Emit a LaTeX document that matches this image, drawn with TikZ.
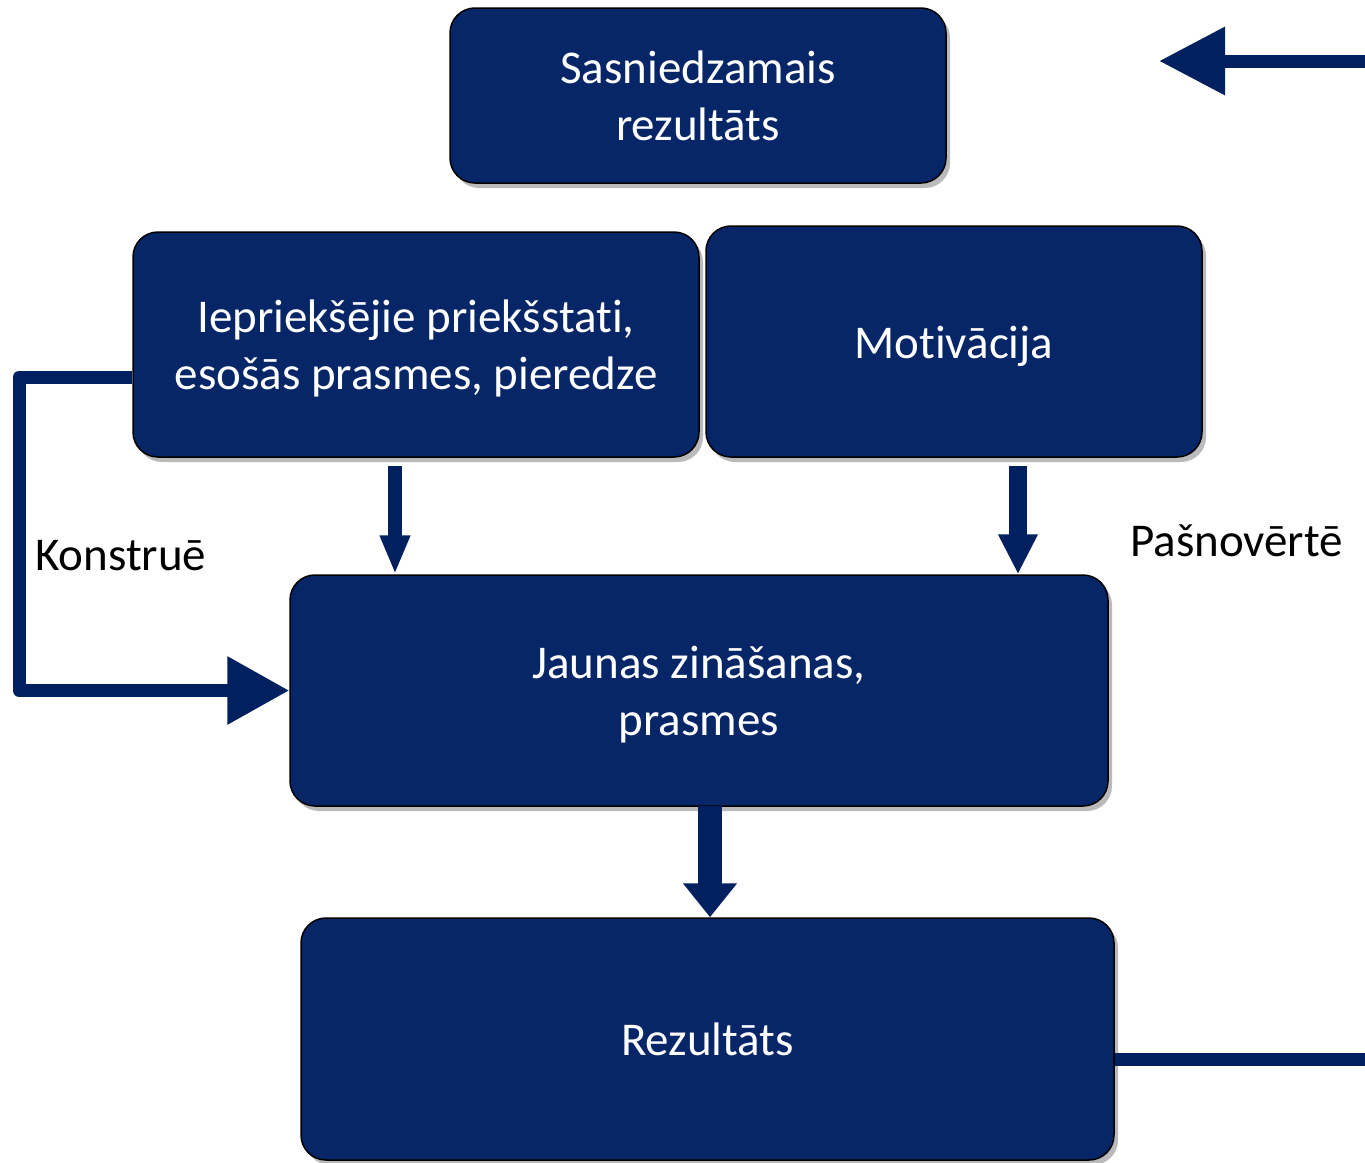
\documentclass[tikz,border=0pt]{standalone}
\usepackage{fontspec}
\setmainfont{Carlito}[RawFeature={-liga;-dlig;-clig;-rlig}]
\usetikzlibrary{arrows.meta,shadows}
\definecolor{boxblue}{RGB}{7,38,104}
\definecolor{arrblue}{RGB}{0,32,96}
\newcommand{\boxtxt}[1]{\raisebox{0pt}[\dimexpr\height+11pt\relax][\depth]{\begin{tabular}{@{}c@{}}#1\end{tabular}}}
\tikzset{
  flowbox/.style={draw=black, line width=1.5pt, fill=boxblue, rounded corners=25pt,
    text=white, align=center, inner sep=0pt,
    font=\fontsize{47}{57}\selectfont,
    drop shadow={shadow xshift=4pt, shadow yshift=-5pt, fill=black!45, opacity=0.6}},
  lbl/.style={font=\fontsize{47}{57}\selectfont, text=black, inner sep=0pt, anchor=west},
  conn/.style={draw=arrblue, line width=13pt},
}
\begin{document}
\begin{tikzpicture}[x=1pt,y=-1pt]
\useasboundingbox (0,0) rectangle (1365,1162);
\node[flowbox, minimum width=496pt, minimum height=175pt] (top) at (698,95.5) {\boxtxt{Sasniedzamais\\rezultāts}};
\node[flowbox, minimum width=566pt, minimum height=225pt] (iep) at (416,344.5) {\boxtxt{Iepriekšējie priekšstati,\\esošās prasmes, pieredze}};
\node[flowbox, minimum width=496pt, minimum height=231pt] (mot) at (954,341.5) {\boxtxt{Motivācija}};
\node[flowbox, minimum width=818pt, minimum height=231pt] (jau) at (699,690.5) {\boxtxt{Jaunas zināšanas,\\prasmes}};
\node[flowbox, minimum width=813pt, minimum height=242pt] (rez) at (707.5,1039) {\boxtxt{Rezultāts}};

\node[lbl] (kon) at (35,556) {Konstruē};
\node[lbl] (pas) at (1130,541) {Pašnovērtē};

% top-right arrow
\coordinate (tr) at (1365,61);
\coordinate (tl) at (1159,61);
\draw[conn, -{Triangle[length=66pt,width=65pt]}] (tr) -- (tl);

% left feedback loop
\coordinate (ka) at (19,377);
\coordinate (kb) at (19,690.5);
\draw[conn, line join=round, -{Triangle[length=62pt,width=65pt]}] (ka -| iep.west) -- (ka) -- (kb) -- (jau.west);

% down arrows
\coordinate (d1) at (395,466);
\draw[draw=arrblue, line width=14pt, -{Triangle[length=39pt,width=28pt]}] (d1) -- (d1 |- jau.north);
\coordinate (d2) at (1018,466);
\draw[draw=arrblue, line width=18pt, -{Triangle[length=40pt,width=37pt]}] (d2) -- (d2 |- jau.north);
\coordinate (d3) at (710,806);
\draw[draw=arrblue, line width=24pt, -{Triangle[length=34pt,width=52pt]}] (d3) -- (d3 |- rez.north);

% bottom-right line
\coordinate (br) at (1365,1059);
\draw[conn] (br -| rez.east) -- (br);
\end{tikzpicture}
\end{document}
